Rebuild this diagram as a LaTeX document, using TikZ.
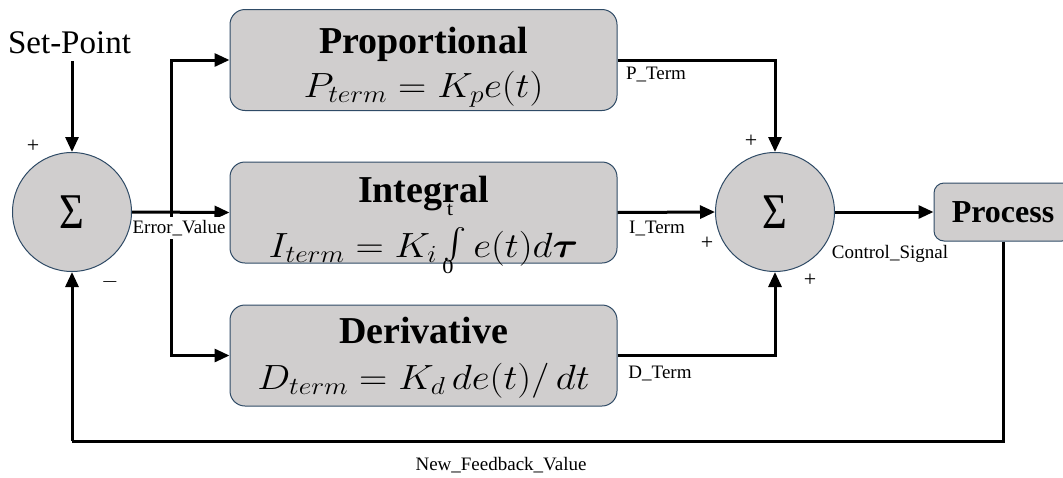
\RequirePackage{fix-cm}
\documentclass[tikz,border=0pt]{standalone}
\usepackage{amsmath}
\usepackage{fontspec}
\setmainfont{Liberation Serif}
\usetikzlibrary{arrows.meta}
\definecolor{blockfill}{HTML}{D0CECE}
\definecolor{blockedge}{HTML}{2F4B66}
% small upright bound of the integral, shifted vertically by #1
\newcommand{\bound}[2]{\raisebox{#1}{\fontsize{20}{20}\selectfont #2}}
\tikzset{
  block/.style={draw=blockedge, line width=1pt, fill=blockfill, rounded corners=15pt,
    minimum width=387pt, minimum height=101pt, inner sep=0pt},
  summer/.style={draw=blockedge, line width=1pt, fill=blockfill, circle,
    minimum size=119pt, inner sep=0pt, font=\fontsize{50}{50}\selectfont},
  wire/.style={line width=3pt, -{Triangle[length=15pt,width=13pt]}},
  plainwire/.style={line width=3pt},
  tag/.style={font=\fontsize{19}{19}\selectfont, inner sep=1pt},
  sign/.style={font=\fontsize{22}{22}\selectfont, inner sep=0pt},
  title/.style={font=\fontsize{38}{40}\selectfont\bfseries, anchor=base, inner sep=0pt},
  formula/.style={font=\fontsize{35}{38}\selectfont, anchor=base, inner sep=0pt, xscale=1.12},
}
\begin{document}
\begin{tikzpicture}[x=1pt,y=-1pt]
\clip (0,0) rectangle (1063,477);

% summing junctions
\node[summer] (sumL) at (72,212) {\scalebox{0.85}[1]{Σ}};
\node[summer] (sumR) at (775,212) {\scalebox{0.85}[1]{Σ}};

% P, I and D blocks
\node[block] (prop) at (423.5,60) {};
\node[title] (propT) at ([yshift=7pt]prop.center) {Proportional};
\node[formula] (propF) at ([yshift=-37pt]prop.center) {$P_{term} = K_{p}e(t)$};

\node[block] (integ) at (423.5,212.5) {};
\node[title] (integT) at ([yshift=10pt]integ.center) {Integral};
\node[formula] (integF) at ([yshift=-45pt]integ.center)
  {$I_{term} = K_{i}\,\rlap{\kern-1pt\bound{-16pt}{0}}\rlap{\kern3pt\bound{42pt}{t}}\raisebox{2pt}{\scalebox{1.25}{$\int$}}\, e(t)d\boldsymbol{\tau}$};

\node[block] (deriv) at (423.5,355.5) {};
\node[title] (derivT) at ([yshift=12pt]deriv.center) {Derivative};
\node[formula] (derivF) at ([yshift=-34pt]deriv.center) {$D_{term} = K_{d}\,de(t)/\,dt$};

% plant
\node[block, minimum width=138pt, minimum height=58pt, rounded corners=10pt,
  font=\fontsize{32}{34}\selectfont\bfseries] (proc) at (1003,212) {Process};

% input
\node[font=\fontsize{33}{33}\selectfont, inner sep=0pt] (sp) at (69.5,43) {Set-Point};
\draw[wire] (sp.south -| sumL.north) ++(0,7) -- (sumL.north);

% error signal and its branches
\coordinate (split) at (171,212);
\draw[wire] (sumL.east) -- (integ.west);
\draw[wire] (split) |- (prop.west);
\draw[wire] (split) |- (deriv.west);
\node[tag, fill=white, inner ysep=3pt] (err) at (179,228) {Error\_Value};

% controller terms into the output junction
\draw[wire] (prop.east) -| (sumR.north);
\draw[wire] (integ.east) -- (sumR.west);
\draw[wire] (deriv.east) -| (sumR.south);
\node[tag] (pt) at (656,75) {P\_Term};
\node[tag] (it) at (657,228) {I\_Term};
\node[tag] (dt) at (660,373) {D\_Term};

% control signal
\draw[wire] (sumR.east) -- (proc.west);
\node[tag] (cs) at (890,254) {Control\_Signal};

% feedback loop
\coordinate (fbR) at (1003,441);
\coordinate (fbL) at (72,441);
\draw[plainwire] (proc.south) -- (fbR) -- (fbL);
\draw[wire] (fbL) -- (sumL.south);
\node[tag] (fb) at (501,465) {New\_Feedback\_Value};

% signs
\node[sign] at (33,146) {+};
\node[sign] at (110,282) {$-$};
\node[sign] at (751,141) {+};
\node[sign] at (707,243) {+};
\node[sign] at (810,280) {+};
\end{tikzpicture}
\end{document}
